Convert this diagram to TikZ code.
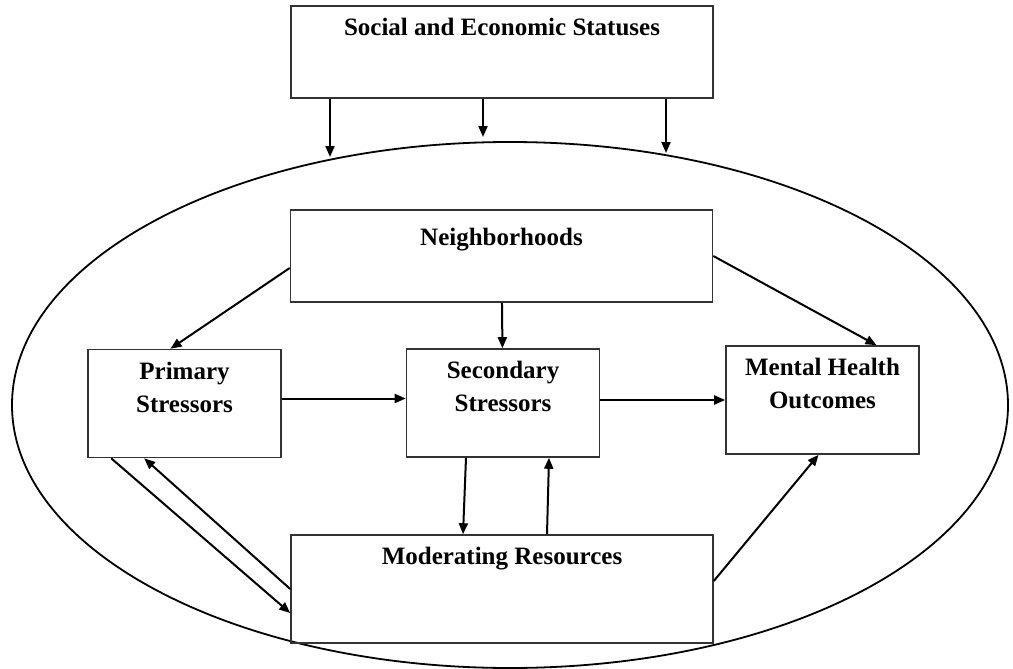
\documentclass[tikz,border=0pt]{standalone}
\usepackage{fontspec}
\setmainfont{Liberation Serif}
\usetikzlibrary{arrows.meta,shapes.geometric}

\begin{document}
\begin{tikzpicture}[x=1pt,y=-1pt,
      every node/.style={font=\fontsize{25}{33}\selectfont\bfseries},
      box/.style={rectangle,draw=black!80,line width=1.6pt,inner sep=0pt},
      wide/.style={box,minimum width=422pt,minimum height=92pt},
      small/.style={box,minimum width=193pt,minimum height=108pt},
      caption/.style={anchor=north,align=center,inner sep=0pt,yshift=-13pt},
      arr/.style={-{Triangle[length=11pt,width=9pt]},line width=2pt}]
    \useasboundingbox (0,0) rectangle (1013,669);

    % the big oval
    \node[ellipse,draw,line width=1.8pt,minimum width=996pt,minimum height=526pt] (env) at (510,405) {};

    \node[wide] (ses) at (502,52)
      [label={[caption]north:Social and Economic Statuses}] {};
    \node[wide] (nbh) at (501.5,256)
      [label={[caption,yshift=-6pt]north:Neighborhoods}] {};
    \node[small] (prim) at (184.5,403.5)
      [label={[caption]north:Primary\\Stressors}] {};
    \node[small] (sec) at (503,403)
      [label={[caption]north:Secondary\\Stressors}] {};
    \node[small] (mho) at (822.5,400)
      [label={[caption]north:Mental Health\\Outcomes}] {};
    \node[wide,minimum height=108pt] (mod) at (502,589)
      [label={[caption]north:Moderating Resources}] {};

    % ends of the top arrows, on the oval
    \coordinate (e1) at (330,157);
    \coordinate (e2) at (483,137);
    \coordinate (e3) at (666,153);
    \draw[arr] (ses.south -| e1) -- (e1);
    \draw[arr] (ses.south -| e2) -- (e2);
    \draw[arr] (ses.south -| e3) -- (e3);

    \draw[arr] ([yshift=-12pt]nbh.west) -- ([xshift=-14pt]prim.north);
    \draw[arr] (nbh) -- (sec);
    \draw[arr] (nbh.east) -- ([xshift=54pt]mho.north);

    \draw[arr] ([yshift=5pt]prim.east) -- ([yshift=5pt]prim.east -| sec.west);
    \draw[arr] ([yshift=3pt]sec.east) -- ([yshift=3pt]sec.east -| mho.west);

    \draw[arr] ([xshift=-37pt]sec.south) -- ([xshift=-39pt]mod.north);
    \draw[arr] ([xshift=45pt]mod.north) -- ([xshift=46pt]sec.south);

    \draw[arr] ([xshift=24pt]prim.south west) -- ([yshift=-24pt]mod.west);
    \draw[arr] (mod.west) -- ([xshift=57pt]prim.south west);
    \draw[arr] ([yshift=8pt]mod.east) -- ([xshift=-4pt]mho.south);
  \end{tikzpicture}
\end{document}
